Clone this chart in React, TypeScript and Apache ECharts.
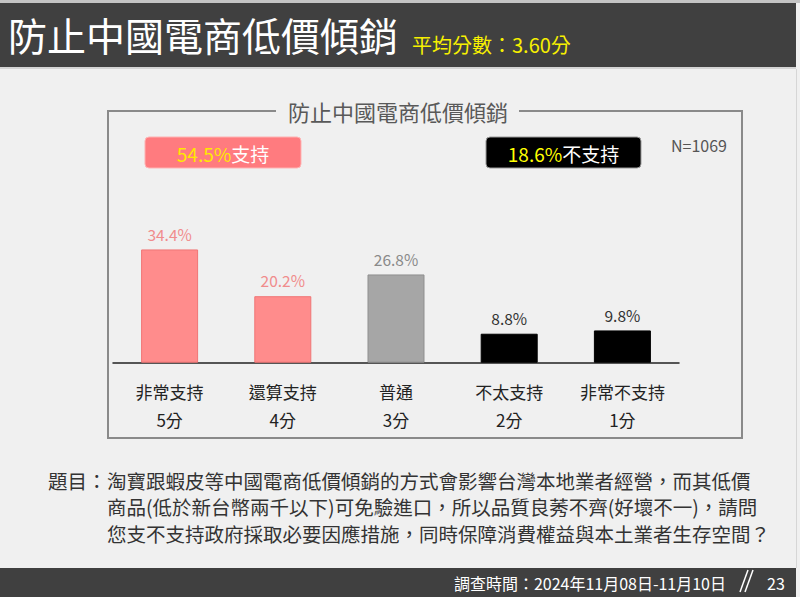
import React, { useEffect, useRef } from "react";
import * as echarts from "echarts";

const categories = ["非常支持", "還算支持", "普通", "不太支持", "非常不支持"];
const scoreLabels = ["5分", "4分", "3分", "2分", "1分"];
const values = [34.4, 20.2, 26.8, 8.8, 9.8];
const barColors = ["#ff8c8c", "#ff8c8c", "#a6a6a6", "#000000", "#000000"];
const barBorders = ["#f07676", "#f07676", "#8f8f8f", "#000000", "#000000"];
const labelColors = ["#f08c8c", "#f08c8c", "#8a8a8a", "#333333", "#333333"];

const mainTitle = "防止中國電商低價傾銷";
const avgScore = "平均分數：3.60分";
const chartTitle = "防止中國電商低價傾銷";
const supportPct = "54.5%";
const opposePct = "18.6%";
const sampleSize = "N=1069";
const questionLines = [
  "淘寶跟蝦皮等中國電商低價傾銷的方式會影響台灣本地業者經營，而其低價",
  "商品(低於新台幣兩千以下)可免驗進口，所以品質良莠不齊(好壞不一)，請問",
  "您支不支持政府採取必要因應措施，同時保障消費權益與本土業者生存空間？",
];
const surveyDate = "調查時間：2024年11月08日-11月10日";
const pageNo = "23";

const FONT = "'Noto Sans CJK TC', 'Noto Sans', sans-serif";

export default function App() {
  const ref = useRef<HTMLDivElement>(null);
  useEffect(() => {
    document.body.style.margin = "0";
    if (!ref.current) return;
    const chart = echarts.init(ref.current, null, { renderer: "svg" });
    const graphics: any[] = [
      { type: "rect", shape: { x: 0, y: 0, width: 800, height: 3 }, style: { fill: "#c4c4c4" } },
      { type: "rect", shape: { x: 0, y: 3, width: 796, height: 64 }, style: { fill: "#404040" } },
      { type: "rect", shape: { x: 0, y: 67, width: 796, height: 2 }, style: { fill: "#d4d4d4" } },
      {
        type: "text", x: 8, y: 34,
        style: { text: mainTitle, fill: "#ffffff", fontSize: 39, fontFamily: FONT, verticalAlign: "middle" },
      },
      {
        type: "text", x: 412, y: 44,
        style: { text: avgScore, fill: "#f7f000", fontSize: 20, fontFamily: FONT, verticalAlign: "middle" },
      },
      { type: "line", shape: { x1: 796.5, y1: 69, x2: 796.5, y2: 568 }, style: { stroke: "#d6d6d6", lineWidth: 1 } },
      {
        type: "polyline",
        shape: { points: [[276, 111], [108, 111], [108, 438], [742, 438], [742, 111], [519, 111]] },
        style: { stroke: "#8a8a8a", lineWidth: 2, fill: null },
      },
      {
        type: "text", x: 398, y: 111,
        style: { text: chartTitle, fill: "#595959", fontSize: 22, fontFamily: FONT, align: "center", verticalAlign: "middle" },
      },
      {
        type: "rect", shape: { x: 145, y: 137, width: 156, height: 31, r: 4 },
        style: { fill: "#ff7b7f", stroke: "#ffb3b3", lineWidth: 1 },
      },
      {
        type: "text", x: 223, y: 153,
        style: {
          text: `{y|${supportPct}}{w|支持}`, align: "center", verticalAlign: "middle",
          rich: {
            y: { fill: "#ffe800", fontSize: 19, fontFamily: FONT },
            w: { fill: "#ffffff", fontSize: 19, fontFamily: FONT },
          },
        },
      },
      {
        type: "rect", shape: { x: 486, y: 137, width: 155, height: 31, r: 4 },
        style: { fill: "#000000", stroke: "#9a9a9a", lineWidth: 1 },
      },
      {
        type: "text", x: 563.5, y: 153,
        style: {
          text: `{y|${opposePct}}{w|不支持}`, align: "center", verticalAlign: "middle",
          rich: {
            y: { fill: "#ffff00", fontSize: 19, fontFamily: FONT },
            w: { fill: "#ffffff", fontSize: 19, fontFamily: FONT },
          },
        },
      },
      {
        type: "text", x: 671, y: 145,
        style: { text: sampleSize, fill: "#555555", fontSize: 16, fontFamily: FONT, verticalAlign: "middle" },
      },
      {
        type: "text", x: 48, y: 480,
        style: { text: "題目：", fill: "#333333", fontSize: 19.5, fontFamily: FONT, verticalAlign: "middle" },
      },
      {
        type: "text", x: 107, y: 466.75,
        style: {
          text: questionLines.join("\n"), fill: "#333333", fontSize: 19.5, lineHeight: 26.5,
          fontFamily: FONT, verticalAlign: "top",
        },
      },
      { type: "rect", shape: { x: 0, y: 568, width: 796, height: 29 }, style: { fill: "#404040" } },
      {
        type: "text", x: 726, y: 583,
        style: { text: surveyDate, fill: "#ffffff", fontSize: 16, fontFamily: FONT, align: "right", verticalAlign: "middle" },
      },
      { type: "line", shape: { x1: 740, y1: 592, x2: 748, y2: 570 }, style: { stroke: "#ffffff", lineWidth: 1.5 } },
      { type: "line", shape: { x1: 745, y1: 592, x2: 753, y2: 570 }, style: { stroke: "#ffffff", lineWidth: 1.5 } },
      {
        type: "text", x: 767, y: 583,
        style: { text: pageNo, fill: "#ffffff", fontSize: 16, fontFamily: FONT, verticalAlign: "middle" },
      },
    ];

    chart.setOption({
      animation: false,
      backgroundColor: "#f0f0f0",
      grid: { left: 113, width: 566, top: 231, height: 131.7 },
      xAxis: {
        type: "category",
        data: categories.map((c, i) => `${c}\n${scoreLabels[i]}`),
        axisLine: { lineStyle: { color: "#222222", width: 1.5 } },
        axisTick: { show: false },
        axisLabel: { color: "#222222", fontSize: 17, lineHeight: 28, margin: 15, fontFamily: FONT },
      },
      yAxis: { type: "value", min: 0, max: 40, show: false, splitLine: { show: false } },
      series: [
        {
          type: "bar",
          barWidth: 57,
          data: values.map((v, i) => ({
            value: v,
            itemStyle: { color: barColors[i], borderColor: barBorders[i], borderWidth: 1 },
            label: { color: labelColors[i] },
          })),
          label: {
            show: true, position: "top", distance: 8, fontSize: 15.5, fontFamily: FONT,
            formatter: (p: any) => `${p.value.toFixed(1)}%`,
          },
        },
      ],
      graphic: graphics,
    });
    return () => chart.dispose();
  }, []);
  return <div ref={ref} style={{ position: "fixed", left: 0, top: 0, width: 800, height: 597 }} />;
}
